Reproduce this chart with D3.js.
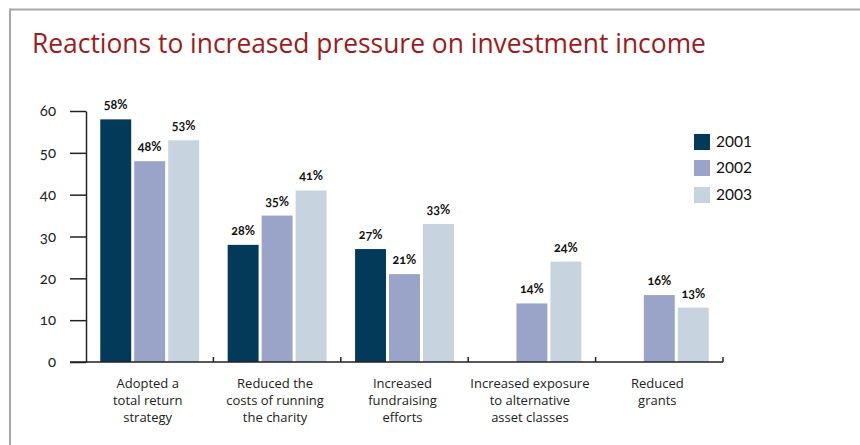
<!DOCTYPE html>
<html>
<head>
<meta charset="utf-8">
<script src="https://cdn.jsdelivr.net/npm/d3@7"></script>
<style>
  html, body { margin: 0; padding: 0; background: #fff; }
  svg { display: block; }
  .num { font-feature-settings: "onum" 1; font-variant-numeric: oldstyle-nums; }
</style>
</head>
<body>
<script>
// Survey results: share of charities reporting each reaction, by year
const categories = [
  ["Adopted a", "total return", "strategy"],
  ["Reduced the", "costs of running", "the charity"],
  ["Increased", "fundraising", "efforts"],
  ["Increased exposure", "to alternative", "asset classes"],
  ["Reduced", "grants"]
];
const years = ["2001", "2002", "2003"];
const values2001 = [58, 28, 27, null, null];
const values2002 = [48, 35, 21, 14, 16];
const values2003 = [53, 41, 33, 24, 13];
const yTicks = [0, 10, 20, 30, 40, 50, 60];
const colors = ["#043a59", "#9aa3c8", "#c7d3df"];

const W = 860, H = 445;
const svg = d3.select("body").append("svg").attr("width", W).attr("height", H);

// frame: top and left rules
svg.append("line").attr("x1", 10).attr("x2", W).attr("y1", 9.5).attr("y2", 9.5)
  .attr("stroke", "#a9a9a9").attr("stroke-width", 2);
svg.append("line").attr("x1", 10).attr("x2", 10).attr("y1", 8.5).attr("y2", H)
  .attr("stroke", "#a9a9a9").attr("stroke-width", 2);

// title
svg.append("text").attr("x", 32).attr("y", 53)
  .attr("fill", "#9c1c20")
  .style("font-family", "'Open Sans', sans-serif")
  .style("font-size", "26.4px")
  .text("Reactions to increased pressure on investment income");

const catIdx = categories.map((d, i) => i);
const series = years.map((y, k) => ({ year: y, values: [values2001, values2002, values2003][k] }));

const x0 = d3.scaleBand().domain(catIdx).range([86, 723]);
const x1 = d3.scaleBand().domain(years).range([0, x0.bandwidth()])
  .paddingInner(0.09).paddingOuter(0.42);
const y = d3.scaleLinear().domain([0, 60]).range([362, 111]);

// y axis
const yAxis = svg.append("g").attr("transform", "translate(86,0)")
  .call(d3.axisLeft(y).tickValues(yTicks).tickSizeInner(16).tickSizeOuter(0).tickPadding(14));
yAxis.select(".domain").attr("stroke", "#222").attr("stroke-width", 1.5);
yAxis.selectAll(".tick line").attr("stroke", "#222").attr("stroke-width", 1.5);
yAxis.selectAll(".tick text")
  .attr("class", "num")
  .attr("fill", "#222")
  .style("font-family", "Lato, sans-serif")
  .style("font-size", "15px");

// bars
const groups = svg.append("g").selectAll("g").data(catIdx).join("g")
  .attr("transform", i => `translate(${x0(i)},0)`);

groups.selectAll("rect")
  .data(i => series.map((s, k) => ({ year: s.year, k, v: s.values[i] })).filter(d => d.v != null))
  .join("rect")
  .attr("x", d => x1(d.year))
  .attr("width", x1.bandwidth())
  .attr("y", d => y(d.v))
  .attr("height", d => y(0) - y(d.v))
  .attr("fill", d => colors[d.k]);

groups.selectAll("text.val")
  .data(i => series.map((s, k) => ({ year: s.year, k, v: s.values[i] })).filter(d => d.v != null))
  .join("text")
  .attr("class", "val num")
  .attr("x", d => x1(d.year) + x1.bandwidth() / 2)
  .attr("y", d => y(d.v) - 10)
  .attr("text-anchor", "middle")
  .attr("fill", "#111")
  .style("font-family", "Lato, sans-serif")
  .style("font-weight", "700")
  .style("font-size", "12.5px")
  .text(d => d.v + "%");

// baseline with category dividers
const base = svg.append("g");
base.append("line").attr("x1", 70).attr("x2", x0.range()[1])
  .attr("y1", y(0)).attr("y2", y(0))
  .attr("stroke", "#222").attr("stroke-width", 1.5);
base.selectAll("line.div").data(catIdx).join("line")
  .attr("class", "div")
  .attr("x1", i => x0(i) + x0.bandwidth()).attr("x2", i => x0(i) + x0.bandwidth())
  .attr("y1", y(0)).attr("y2", y(0) - 5)
  .attr("stroke", "#222").attr("stroke-width", 1.5);

// category labels
const labels = svg.append("g").selectAll("text").data(catIdx).join("text")
  .attr("text-anchor", "middle")
  .attr("fill", "#222")
  .style("font-family", "'Open Sans', sans-serif")
  .style("font-size", "13px");
labels.selectAll("tspan").data(i => categories[i].map(line => ({ i, line }))).join("tspan")
  .attr("x", d => x0(d.i) + x0.bandwidth() / 2 - 2)
  .attr("y", (d, j) => 388 + j * 17.2)
  .text(d => d.line);

// legend
const legend = svg.append("g").selectAll("g").data(years).join("g")
  .attr("transform", (d, k) => `translate(694,${[134, 160, 187][k]})`);
legend.append("rect").attr("width", 16).attr("height", 16).attr("fill", (d, k) => colors[k]);
legend.append("text").attr("x", 22).attr("y", 13)
  .attr("fill", "#111")
  .style("font-family", "Lato, sans-serif")
  .style("font-size", "15.5px")
  .text(d => d);
</script>
</body>
</html>
